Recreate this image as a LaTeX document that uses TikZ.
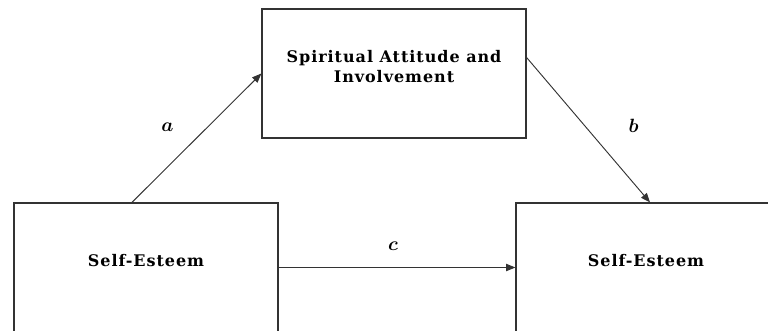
\documentclass[tikz,border=0pt]{standalone}
\usepackage{fontspec}
\setmainfont{DejaVu Serif}
\usetikzlibrary{arrows.meta,calc}
\tikzset{
  box/.style={draw=black!80, line width=0.9pt, minimum height=96.75pt, text depth=10pt, align=center,
    font=\fontsize{12}{15}\selectfont\bfseries\addfontfeatures{LetterSpace=6}},
  link/.style={draw=black!80, line width=0.7pt, -{Triangle[length=7pt,width=5.5pt]}},
  coef/.style={font=\Large\boldmath}
}
\begin{document}
\begin{tikzpicture}[x=0.75pt, y=-0.75pt]
\useasboundingbox (0,0) rectangle (768,331);
% boxes
\node[box, minimum width=198pt] (sai) at (394,73.5) {Spiritual Attitude and\\Involvement};
\node[box, minimum width=198pt] (sei) at (146,267.5) {Self-Esteem};
\node[box, minimum width=195pt] (seo) at (646,267.5) {Self-Esteem};
% paths
\draw[link] ($(sei.north west)!0.447!(sei.north east)$) -- (sai.west) node[midway, coef, xshift=-22pt, yshift=8pt] {$a$};
\draw[link] ([yshift=12pt]sai.east) -- ([xshift=3pt]seo.north) node[midway, coef, xshift=34pt, yshift=3pt] {$b$};
\draw[link] (sei.east) -- (seo.west) node[midway, coef, xshift=-3pt, yshift=16pt] {$c$};
\end{tikzpicture}
\end{document}
